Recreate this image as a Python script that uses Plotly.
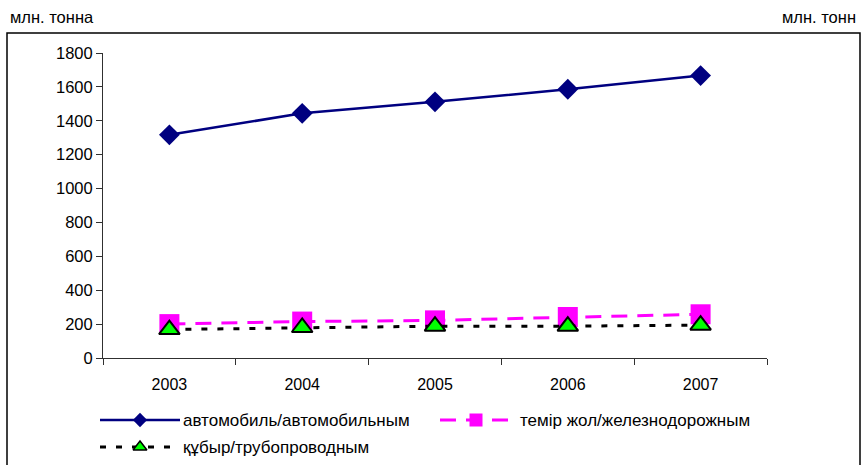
import plotly.graph_objects as go

years = ["2003", "2004", "2005", "2006", "2007"]
auto = [1317, 1444, 1512, 1586, 1667]
rail = [200, 215, 222, 242, 258]
pipe = [168, 180, 188, 188, 194]

names = ["автомобиль/автомобильным", "темір жол/железнодорожным", "құбыр/трубопроводным"]
y_ticks = list(range(0, 1801, 200))

W, H = 864, 465
FONT = "Liberation Sans, Arial, sans-serif"

NAVY = "#000080"
MAG = "#FF00FF"
LIME = "#00FF00"

fig = go.Figure()

styles = [
    dict(line=dict(color=NAVY, width=2.5),
         marker=dict(symbol="diamond", size=16, color=NAVY)),
    dict(line=dict(color=MAG, width=3, dash="16px,10px"),
         marker=dict(symbol="square", size=20, color=MAG)),
    dict(line=dict(color="black", width=3, dash="6px,10px"),
         marker=dict(symbol="triangle-up", size=18, color=LIME,
                     line=dict(color="black", width=2))),
]
series = [auto, rail, pipe]

# custom legend on a full-figure pixel axis (x2/y2)
leg = [
    (100, 180, 420, 0, 181),
    (440, 512, 420, 1, 518),
    (100, 180, 447, 2, 181),
]
leg_styles = [
    dict(line=dict(color=NAVY, width=2.5), msym="diamond", msize=11, mcol=NAVY, mline=None),
    dict(line=dict(color=MAG, width=3, dash="16px,10px"), msym="square", msize=13, mcol=MAG, mline=None),
    dict(line=dict(color="black", width=3, dash="6px,10px"), msym="triangle-up", msize=12, mcol=LIME,
         mline=dict(color="black", width=1.5)),
]
for x0, x1, yy, i, tx in leg:
    s = leg_styles[i]
    fig.add_trace(go.Scatter(x=[x0, x1], y=[yy, yy], mode="lines", line=s["line"],
                             xaxis="x2", yaxis="y2", showlegend=False, hoverinfo="skip"))
    mk = dict(symbol=s["msym"], size=s["msize"], color=s["mcol"])
    if s["mline"]:
        mk["line"] = s["mline"]
    fig.add_trace(go.Scatter(x=[(x0 + x1) / 2], y=[yy], mode="markers", marker=mk,
                             xaxis="x2", yaxis="y2", showlegend=False, hoverinfo="skip"))
    fig.add_annotation(x=tx, y=yy, xref="x2", yref="y2", text=names[i], showarrow=False,
                       xanchor="left", yanchor="middle",
                       font=dict(family=FONT, size=17, color="black"))

for name, vals, st in zip(names, series, styles):
    fig.add_trace(go.Scatter(x=years, y=vals, mode="lines+markers", name=name,
                             showlegend=False, cliponaxis=False, **st))

px = lambda v: v / W
py = lambda v: 1 - v / H

fig.update_layout(
    width=W, height=H, autosize=False,
    margin=dict(l=0, r=0, t=0, b=0, autoexpand=False),
    paper_bgcolor="white", plot_bgcolor="rgba(0,0,0,0)",
    font=dict(family=FONT, size=15, color="black"),
    xaxis=dict(domain=[px(103), px(767)], type="category", range=[-0.5, 4.5],
               anchor="y",
               showline=True, linecolor="#303030", linewidth=1,
               ticks="outside", ticklen=6, tickcolor="#303030", tickson="boundaries",
               ticklabelstandoff=12,
               showgrid=False, zeroline=False, fixedrange=True, automargin=False,
               tickfont=dict(size=16)),
    yaxis=dict(domain=[py(358), py(53)], range=[0, 1800], tickvals=y_ticks,
               anchor="x",
               showline=True, linecolor="#303030", linewidth=1,
               ticks="outside", ticklen=6, tickcolor="#303030",
               showgrid=False, zeroline=False, fixedrange=True, automargin=False,
               tickfont=dict(size=16.5)),
    xaxis2=dict(domain=[0, 1], range=[0, W], anchor="y2", visible=False, fixedrange=True),
    yaxis2=dict(domain=[0, 1], range=[H, 0], anchor="x2", visible=False, fixedrange=True),
    shapes=[
        dict(type="path", xref="paper", yref="paper",
             path=f"M {px(7)} {py(475)} L {px(7)} {py(33)} L {px(860)} {py(33)} L {px(860)} {py(475)}",
             line=dict(color="black", width=1.5)),
    ],
    showlegend=False,
)

fig.add_annotation(x=px(8), y=py(17), xref="paper", yref="paper", text="млн. тонна",
                   showarrow=False, xanchor="left", yanchor="middle",
                   font=dict(family=FONT, size=16.5, color="black"))
fig.add_annotation(x=px(858), y=py(17), xref="paper", yref="paper", text="млн. тонн",
                   showarrow=False, xanchor="right", yanchor="middle",
                   font=dict(family=FONT, size=16.5, color="black"))

fig.write_html(
    "out.html",
    config={"responsive": False, "displayModeBar": False},
    post_script="document.body.style.margin='0';document.body.style.padding='0';"
                "document.body.style.overflow='hidden';",
)
